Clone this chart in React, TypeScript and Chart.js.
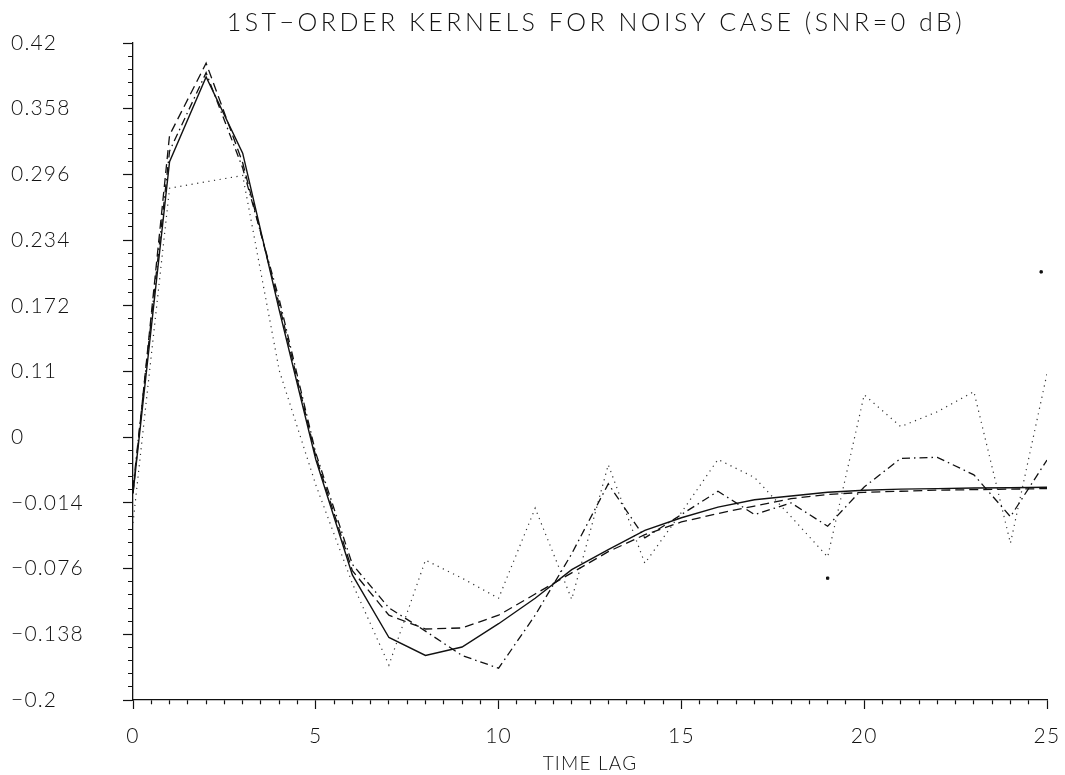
import React, { useEffect, useRef } from 'react';
import { Chart, registerables } from 'chart.js';

Chart.register(...registerables);

// ---- data ----
const lags = [0, 1, 2, 3, 4, 5, 6, 7, 8, 9, 10, 11, 12, 13, 14, 15, 16, 17, 18, 19, 20, 21, 22, 23, 24, 25];

const trueKernel = [
  -0.005, 0.308, 0.388, 0.316, 0.168, 0.027, -0.082, -0.141, -0.158, -0.15,
  -0.128, -0.104, -0.077, -0.058, -0.04, -0.028, -0.018, -0.011, -0.0075, -0.004,
  -0.002, -0.001, -0.0005, 0.0, 0.0003, 0.0007,
];

const dashedKernel = [
  -0.005, 0.333, 0.401, 0.307, 0.173, 0.03, -0.078, -0.12, -0.133, -0.132,
  -0.12, -0.1, -0.08, -0.06, -0.044, -0.032, -0.024, -0.017, -0.01, -0.006,
  -0.004, -0.003, -0.002, -0.0015, -0.001, -0.0005,
];

const dashDotKernel = [
  0.0, 0.318, 0.392, 0.302, 0.178, 0.033, -0.072, -0.113, -0.135, -0.158,
  -0.17, -0.12, -0.062, 0.004, -0.047, -0.025, -0.003, -0.025, -0.014, -0.036,
  0.001, 0.028, 0.029, 0.0125, -0.027, 0.0265,
];

const dottedKernel = [
  -0.033, 0.283, 0.289, 0.295, 0.111, 0.003, -0.09, -0.167, -0.068, -0.085,
  -0.104, -0.019, -0.105, 0.022, -0.071, -0.023, 0.027, 0.01, -0.027, -0.065,
  0.088, 0.058, 0.072, 0.091, -0.052, 0.108,
];

const strayX = [19.0, 24.84];
const strayY = [-0.085, 0.204];

const yTickLabels = ['\u22120.2', '\u22120.138', '\u22120.076', '\u22120.014', '0', '0.11', '0.172', '0.234', '0.296', '0.358', '0.42'];
const xTickLabels = ['0', '5', '10', '15', '20', '25'];

const TITLE = '1ST\u2212ORDER KERNELS FOR NOISY CASE (SNR=0 dB)';
const X_TITLE = 'TIME LAG';

const Y_MIN = -0.2;
const Y_MAX = 0.42;
const Y_MAJOR = 0.062;
const X_MIN = 0;
const X_MAX = 25;
const X_MAJOR = 5;
const MINOR_PER_MAJOR_Y = 5;
const MINOR_PER_MAJOR_X = 10;

const FONT = "Lato, 'DejaVu Sans', sans-serif";
const INK = '#111';
const LABEL_SPACING = '1.2px';
const TITLE_SPACING = '3.5px';
const TITLE_SHIFT = 6;

function toPoints(xs: number[], ys: number[]) {
  return xs.map((x, i) => ({ x, y: ys[i] }));
}

const spacingPlugin = {
  id: 'letterSpacingPlugin',
  afterInit(chart: any) {
    const tb = chart.titleBlock;
    if (tb && !tb.__patched) {
      const orig = tb.draw.bind(tb);
      tb.draw = (...args: any[]) => {
        const c: any = chart.ctx;
        const area = chart.chartArea;
        const dx = area ? (area.left + area.right) / 2 + TITLE_SHIFT - (tb.left + tb.right) / 2 : 0;
        c.save();
        c.letterSpacing = TITLE_SPACING;
        c.translate(dx, 0);
        orig(...args);
        c.restore();
      };
      tb.__patched = true;
    }
  },
  beforeDraw(chart: any) {
    (chart.ctx as any).letterSpacing = LABEL_SPACING;
  },
  afterDraw(chart: any) {
    (chart.ctx as any).letterSpacing = '0px';
  },
};

export default function App() {
  const ref = useRef<HTMLCanvasElement | null>(null);

  useEffect(() => {
    const canvas = ref.current;
    if (!canvas) return;
    document.body.style.margin = '0';

    const lineBase = {
      borderColor: INK,
      backgroundColor: INK,
      pointRadius: 0,
      tension: 0,
      fill: false,
    };

    const chart = new Chart(canvas, {
      type: 'line',
      data: {
        datasets: [
          { ...lineBase, label: 'true', data: toPoints(lags, trueKernel), borderWidth: 1.4 },
          { ...lineBase, label: 'dashed', data: toPoints(lags, dashedKernel), borderWidth: 1.3, borderDash: [9, 5] },
          { ...lineBase, label: 'dashdot', data: toPoints(lags, dashDotKernel), borderWidth: 1.3, borderDash: [8, 4, 1.5, 4] },
          { ...lineBase, label: 'dotted', data: toPoints(lags, dottedKernel), borderWidth: 1.2, borderDash: [1.2, 4.5], borderColor: '#333' },
          {
            ...lineBase,
            label: 'stray',
            data: toPoints(strayX, strayY),
            showLine: false,
            pointRadius: 1.6,
            pointStyle: 'rect',
          },
        ],
      },
      plugins: [spacingPlugin],
      options: {
        animation: false,
        responsive: false,
        devicePixelRatio: 1,
        layout: { padding: { left: 11, right: 18, top: 0, bottom: 0 } },
        plugins: {
          legend: { display: false },
          tooltip: { enabled: false },
          title: {
            display: true,
            text: TITLE,
            color: INK,
            font: { family: FONT, size: 25, weight: '300', lineHeight: 1.2 },
            padding: { top: 8, bottom: 5 },
          },
        },
        scales: {
          x: {
            type: 'linear',
            min: X_MIN,
            max: X_MAX,
            afterFit: (scale: any) => {
              scale.height = 75;
              scale.paddingLeft = 0;
              scale.paddingRight = 0;
            },
            afterBuildTicks: (scale: any) => {
              const n = (X_MAX - X_MIN) / X_MAJOR * MINOR_PER_MAJOR_X;
              const step = X_MAJOR / MINOR_PER_MAJOR_X;
              scale.ticks = Array.from({ length: n + 1 }, (_, k) => ({ value: X_MIN + k * step }));
            },
            border: { display: true, color: INK, width: 1.3 },
            grid: {
              drawOnChartArea: false,
              drawTicks: true,
              tickLength: 9,
              tickColor: INK,
              tickWidth: 1.2,
              tickBorderDash: (ctx: any) => (ctx.index % MINOR_PER_MAJOR_X === 0 ? [] : [4, 30]),
            },
            ticks: {
              autoSkip: false,
              maxRotation: 0,
              padding: 15,
              color: INK,
              font: { family: FONT, size: 21, weight: '300' },
              callback: (_v: any, index: number) =>
                index % MINOR_PER_MAJOR_X === 0 ? xTickLabels[index / MINOR_PER_MAJOR_X] : '',
            },
            title: {
              display: true,
              text: X_TITLE,
              color: INK,
              font: { family: FONT, size: 19, weight: '300', lineHeight: 1.2 },
              padding: { top: 0, bottom: 0 },
            },
          },
          y: {
            type: 'linear',
            min: Y_MIN,
            max: Y_MAX,
            afterFit: (scale: any) => {
              scale.width = 122;
            },
            afterBuildTicks: (scale: any) => {
              const n = Math.round((Y_MAX - Y_MIN) / Y_MAJOR) * MINOR_PER_MAJOR_Y;
              const step = Y_MAJOR / MINOR_PER_MAJOR_Y;
              scale.ticks = Array.from({ length: n + 1 }, (_, k) => ({ value: Y_MIN + k * step }));
            },
            border: { display: true, color: INK, width: 1.3 },
            grid: {
              drawOnChartArea: false,
              drawTicks: true,
              tickLength: 10,
              tickColor: INK,
              tickWidth: 1.2,
              tickBorderDash: (ctx: any) => (ctx.index % MINOR_PER_MAJOR_Y === 0 ? [] : [0, 5, 10]),
            },
            ticks: {
              autoSkip: false,
              crossAlign: 'far',
              color: INK,
              font: { family: FONT, size: 21, weight: '300' },
              callback: (_v: any, index: number) =>
                index % MINOR_PER_MAJOR_Y === 0 ? yTickLabels[index / MINOR_PER_MAJOR_Y] : '',
            },
          },
        },
      } as any,
    });

    return () => {
      chart.destroy();
    };
  }, []);

  return (
    <div style={{ position: 'fixed', left: 0, top: 0, width: 1065, height: 775, background: '#fff' }}>
      <canvas ref={ref} width={1065} height={775} style={{ width: 1065, height: 775 }} />
    </div>
  );
}
